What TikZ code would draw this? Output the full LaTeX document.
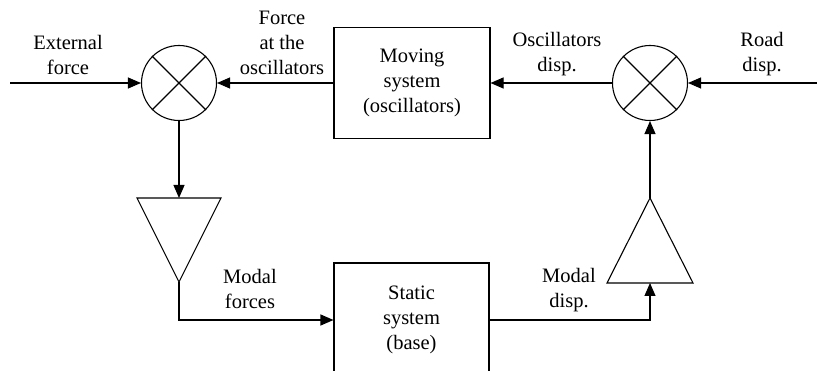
\documentclass[tikz,border=0pt]{standalone}
\usepackage{fontspec}
\setmainfont{Liberation Serif}
\usetikzlibrary{arrows.meta}
\begin{document}
\begin{tikzpicture}[x=1pt,y=-1pt,
  line width=1.1pt,
  every node/.style={font=\rmfamily\fontsize{20.5}{25}\selectfont},
  lbl/.style={align=center, inner sep=0pt},
  sumnode/.style={draw, circle, minimum size=75pt, inner sep=0pt},
  blk/.style={draw, rectangle, align=center, inner sep=0pt},
  arr/.style={-{Triangle[length=13pt,width=11pt]}}]
\useasboundingbox (0,0) rectangle (817,371);
\clip (0,0) rectangle (817,371);
% summing junctions
\node[sumnode] (sumL) at (179,83) {};
\node[sumnode] (sumR) at (650,83) {};
\draw (sumL.45) -- (sumL.225) (sumL.135) -- (sumL.315);
\draw (sumR.45) -- (sumR.225) (sumR.135) -- (sumR.315);
% blocks
\node[blk, minimum width=156pt, minimum height=111pt] (moving) at (412,83) {Moving\\system\\(oscillators)};
\node[blk, minimum width=155pt, minimum height=114pt] (static) at (411.5,320) {Static\\system\\(base)};
% triangles
\coordinate (triLtop) at (179,198);
\coordinate (triLapex) at (179,282);
\draw (137,198) -- (221,198) -- (triLapex) -- cycle;
\coordinate (triRbase) at (650,283);
\coordinate (triRapex) at (650,198);
\draw (607,283) -- (693,283) -- (triRapex) -- cycle;
% free ends
\coordinate (extin) at (10,83);
\coordinate (roadin) at (817,83);
% connectors
\draw[arr] (extin) -- (sumL.west);
\draw[arr] (moving.west) -- (sumL.east);
\draw[arr] (sumR.west) -- (moving.east);
\draw[arr] (roadin) -- (sumR.east);
\draw[arr] (sumL.south) -- (triLtop);
\draw[arr] (triLapex) |- (static.west);
\draw[arr] (static.east) -| (triRbase);
\draw[arr] (triRapex) -- (sumR.south);
% labels
\node[lbl] (lext) at (68,54.5) {External\\force};
\node[lbl] (lfosc) at (282,43) {Force\\at the\\oscillators};
\node[lbl] (loscd) at (557,54.5) {Oscillators\\disp.};
\node[lbl] (lroad) at (762,54.5) {Road\\disp.};
\node[lbl] (lmodf) at (250,288.5) {Modal\\forces};
\node[lbl] (lmodd) at (569,290.5) {Modal\\disp.};
\end{tikzpicture}
\end{document}
